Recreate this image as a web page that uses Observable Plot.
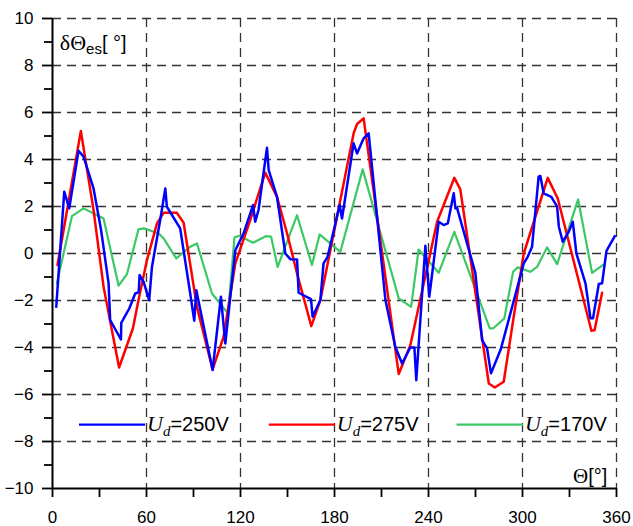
<!DOCTYPE html>
<html>
<head>
<meta charset="utf-8">
<script src="https://cdn.jsdelivr.net/npm/d3@7"></script>
<script src="https://cdn.jsdelivr.net/npm/@observablehq/plot@0.6"></script>
<style>
  html, body { margin: 0; padding: 0; background: #fff; }
  #chart svg { display: block; }
</style>
</head>
<body>
<div id="chart"></div>
<script>
// ---- data ----
const xTicks = [0, 60, 120, 180, 240, 300, 360];
const xMinorTicks = [30, 90, 150, 210, 270, 330];
const yTicks = [-10, -8, -6, -4, -2, 0, 2, 4, 6, 8, 10];
const yMinorTicks = [-9, -7, -5, -3, -1, 1, 3, 5, 7, 9];

const blueX = [2.4, 7.5, 10.7, 16.6, 19.8, 26.2, 31, 35.8, 36.8, 43.7, 43.9, 49, 52.8, 55, 55.6, 58.1, 61.7, 63.5, 68.8, 72, 73, 81.5, 87.9, 90.5, 91.8, 102.2, 107.5, 110.3, 116.7, 122, 128, 129.4, 131.5, 136.9, 138, 143.3, 148.6, 151.8, 156.1, 157.1, 165, 166, 171, 173, 175.6, 183.3, 184.8, 192.2, 194.4, 198.6, 201.8, 212.5, 218.8, 223.1, 228.4, 231, 232.2, 238, 240.5, 246.5, 249.7, 252.3, 256.1, 257.2, 258.2, 269.9, 274.2, 277.4, 279.9, 286.3, 300.8, 303.3, 306.1, 310.3, 311.4, 313.5, 318.4, 322.1, 323.2, 325.7, 329.5, 332.1, 334.4, 340.2, 343.4, 345, 348.7, 350.8, 353.6, 358.9];
const blueY = [-2.27, 2.63, 1.92, 4.37, 4.12, 2.77, 1.0, -1.27, -2.83, -3.66, -2.95, -2.34, -1.7, -1.65, -0.92, -1.2, -1.98, -0.56, 1.45, 2.77, 1.99, 1.07, -1.7, -2.86, -1.56, -4.96, -1.84, -3.83, 0.14, 0.86, 2.06, 1.35, 1.85, 4.5, 3.55, 2.41, 0, -0.24, -0.25, -1.67, -1.94, -2.69, -1.98, -0.42, -0.14, 2.06, 1.49, 4.69, 4.26, 4.9, 5.11, -1.98, -3.97, -4.68, -4.0, -4.0, -5.39, 0.33, -1.84, 1.35, 1.21, 1.28, 2.56, 1.92, 1.94, -0.82, -3.69, -4.04, -5.1, -4.04, -0.42, -0.14, 0.29, 3.27, 3.3, 2.56, 2.41, 1.99, 1.14, 0.5, 0.92, 1.35, 0, -1.27, -2.76, -2.76, -1.3, -1.27, 0.11, 0.74];

const redX = [3.2, 18.1, 20.9, 26.2, 32.6, 42.5, 51.3, 54.9, 60.3, 66.7, 70.9, 79.4, 83.7, 92.2, 102.2, 109.2, 116.7, 126.2, 135.8, 143.3, 149.7, 156.1, 165.2, 171, 192.2, 194.4, 198.6, 221, 228.4, 245.5, 256.5, 260.3, 278.5, 282.3, 288, 294.4, 300.8, 316.1, 322.5, 344, 346, 350.8];
const redY = [-0.49, 5.21, 4.05, 1.85, -1.42, -4.85, -3.19, -1.98, -0.28, 1.28, 1.73, 1.73, 1.31, -2.27, -4.93, -3.55, -0.42, 1.42, 3.44, 2.41, 0.86, -0.85, -3.09, -1.98, 5.11, 5.51, 5.75, -5.13, -3.9, 1.35, 3.22, 2.73, -5.53, -5.7, -5.46, -2.69, 0, 3.22, 2.34, -3.29, -3.27, -1.67];

const greenX = [2.8, 12.4, 19.8, 32.6, 42.2, 47.5, 54.9, 58.1, 67.7, 70.9, 79, 87.9, 92.2, 101.8, 112, 116.2, 119.4, 128, 136.5, 139.5, 143.7, 156.1, 165.6, 170.5, 183.7, 198, 221, 228.9, 233.7, 246.5, 256.5, 279.1, 281.2, 288.4, 294, 296.9, 305, 309.3, 315.7, 322.1, 335.5, 344.4, 351.9];
const greenY = [-1.27, 1.59, 1.92, 1.49, -1.37, -0.88, 1.03, 1.07, 0.86, 0.64, -0.21, 0.29, 0.43, -1.7, -2.55, 0.69, 0.75, 0.46, 0.74, 0.72, -0.57, 1.63, -0.49, 0.81, 0.07, 3.58, -1.91, -2.27, 0.17, -0.82, 0.92, -3.19, -3.19, -2.76, -0.78, -0.59, -0.78, -0.57, 0.26, -0.45, 2.3, -0.82, -0.46];

const seriesLabels = ["=250V", "=275V", "=170V"];
const seriesColors = ["#0000ff", "#ff0000", "#3cc864"];

// ---- layout (data units) ----
const legendLineX1 = [17.2, 138.4, 258.2];
const legendLineX2 = [59.4, 180.5, 300.6];
const legendY = -7.28;

const toRows = (xs, ys) => xs.map((x, i) => ({x, y: ys[i]}));
const blue = toRows(blueX, blueY);
const red = toRows(redX, redY);
const green = toRows(greenX, greenY);
const legendRows = seriesLabels.map((l, i) => ({label: l, color: seriesColors[i], x1: legendLineX1[i], x2: legendLineX2[i]}));

const SANS = "'Liberation Sans', Arial, Helvetica, sans-serif";
const SERIF = "'Liberation Serif', 'Times New Roman', serif";

const plot = Plot.plot({
  width: 633,
  height: 526,
  marginLeft: 52,
  marginRight: 17,
  marginTop: 18,
  marginBottom: 38,
  x: {domain: [0, 360]},
  y: {domain: [-10, 10]},
  style: {fontFamily: SANS, fontSize: "17px", color: "#000", background: "#fff", overflow: "visible"},
  marks: [
    Plot.gridX(xTicks.filter(d => d > 0), {stroke: "#333", strokeOpacity: 1, strokeWidth: 1.3, strokeDasharray: "9,6"}),
    Plot.gridY(yTicks.filter(d => d > -10), {stroke: "#333", strokeOpacity: 1, strokeWidth: 1.3, strokeDasharray: "9,6"}),
    Plot.axisX(xTicks, {tickSize: 9, tickPadding: 13, fontSize: 17, strokeWidth: 1.8, label: null}),
    Plot.axisX(xMinorTicks, {tickSize: 9, tickFormat: () => "", strokeWidth: 1.8, label: null}),
    Plot.axisY(yTicks, {tickSize: 10, tickPadding: 9, fontSize: 17, strokeWidth: 1.8, label: null}),
    Plot.axisY(yMinorTicks, {tickSize: 8, tickFormat: () => "", strokeWidth: 1.8, label: null}),
    Plot.ruleX([0], {stroke: "#000", strokeWidth: 2}),
    Plot.ruleY([-10], {stroke: "#000", strokeWidth: 2}),
    Plot.line(green, {x: "x", y: "y", stroke: seriesColors[2], strokeWidth: 2.2}),
    Plot.line(red, {x: "x", y: "y", stroke: seriesColors[1], strokeWidth: 2.5}),
    Plot.line(blue, {x: "x", y: "y", stroke: seriesColors[0], strokeWidth: 2.5}),
    Plot.ruleY(legendRows, {y: legendY, x1: "x1", x2: "x2", stroke: "color", strokeWidth: 2.2})
  ]
});

document.getElementById("chart").appendChild(plot);

// ---- rich text labels positioned through the plot's scales ----
const sx = plot.scale("x"), sy = plot.scale("y");
const svg = d3.select(plot);

function richText(x, y, parts, anchor) {
  const t = svg.append("text").attr("x", x).attr("y", y).attr("fill", "#000")
    .attr("text-anchor", anchor || "start");
  parts.forEach(p => {
    t.append("tspan")
      .attr("font-family", p.f)
      .attr("font-size", p.s)
      .attr("font-style", p.i ? "italic" : null)
      .attr("dy", p.dy || 0)
      .text(p.t);
  });
  return t;
}

// y-axis title
richText(sx.apply(5), sy.apply(8.65), [
  {t: "δΘ", f: SERIF, s: 22},
  {t: "es", f: SANS, s: 15, dy: 4},
  {t: "[ °]", f: SANS, s: 20, dy: -4}
]);

// x-axis title
richText(sx.apply(354.5), sy.apply(-9.8) , [
  {t: "Θ", f: SERIF, s: 21},
  {t: "[°]", f: SANS, s: 20}
], "end");

// legend labels
legendRows.forEach(r => {
  richText(sx.apply(r.x2) + 2, sy.apply(legendY) + 7, [
    {t: "U", f: SERIF, s: 22, i: true},
    {t: "d", f: SERIF, s: 15, i: true, dy: 5},
    {t: r.label, f: SANS, s: 20, dy: -5}
  ]);
});
</script>
</body>
</html>
